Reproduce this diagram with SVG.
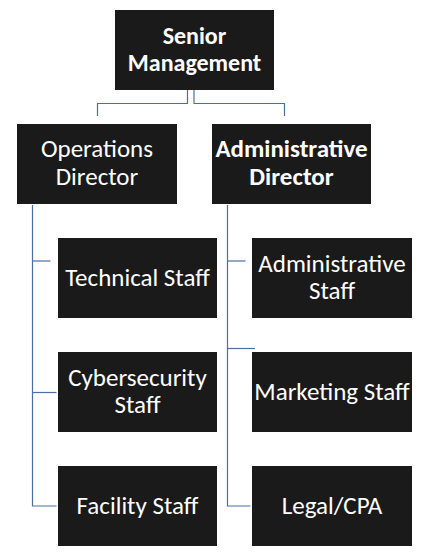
<svg xmlns="http://www.w3.org/2000/svg" width="432" height="558" viewBox="0 0 432 558">
<style>
.box{fill:#1b1a1a}
.t{fill:#ffffff;font-family:"Carlito","Open Sans","Noto Sans",sans-serif;font-size:25px;text-anchor:middle}
.b{font-weight:bold}
.s{font-size:24px}
.c{fill:none;stroke:#4a6fa5;stroke-width:1.2}
</style>
<rect width="432" height="558" fill="#ffffff"/>
<g id="connectors">
<path class="c" d="M187.5,90 V103.5 H97.5 V116"/>
<path class="c" d="M194,90 V103.5 H284.5 V116"/>
<path class="c" d="M32.5,205 V506 H56.5"/>
<path class="c" d="M32.5,261 H50.5"/>
<path class="c" d="M32.5,392.5 H56.5"/>
<path class="c" d="M227.5,205 V506 H250.5"/>
<path class="c" d="M227.5,261 H245.5"/>
<path class="c" d="M227.5,348.5 H255"/>
</g>
<g id="senior-management">
<rect class="box" x="115" y="10" width="159" height="80"/>
<text class="t b s" x="194.5" y="43.5">Senior</text>
<text class="t b s" x="194.5" y="71">Management</text>
</g>
<g id="operations-director">
<rect class="box" x="17" y="124" width="160" height="80"/>
<text class="t" x="97" y="157.3">Operations</text>
<text class="t" x="97" y="185">Director</text>
</g>
<g id="administrative-director">
<rect class="box" x="212" y="124" width="159" height="80"/>
<text class="t b" x="291.5" y="157.3">Administrative</text>
<text class="t b" x="291.5" y="185">Director</text>
</g>
<g id="technical-staff">
<rect class="box" x="58" y="238" width="159" height="80"/>
<text class="t" x="137.5" y="285.5">Technical Staff</text>
</g>
<g id="cybersecurity-staff">
<rect class="box" x="58" y="352" width="159" height="80"/>
<text class="t" x="137.5" y="385.5">Cybersecurity</text>
<text class="t" x="137.5" y="413">Staff</text>
</g>
<g id="facility-staff">
<rect class="box" x="58" y="466" width="159" height="80"/>
<text class="t" x="137.5" y="513.5">Facility Staff</text>
</g>
<g id="administrative-staff">
<rect class="box" x="252" y="238" width="160" height="80"/>
<text class="t" x="332" y="271.5">Administrative</text>
<text class="t" x="332" y="299">Staff</text>
</g>
<g id="marketing-staff">
<rect class="box" x="252" y="352" width="160" height="80"/>
<text class="t" x="332" y="399.5">Marketing Staff</text>
</g>
<g id="legal-cpa">
<rect class="box" x="252" y="466" width="160" height="80"/>
<text class="t" x="332" y="513.5">Legal/CPA</text>
</g>
</svg>
